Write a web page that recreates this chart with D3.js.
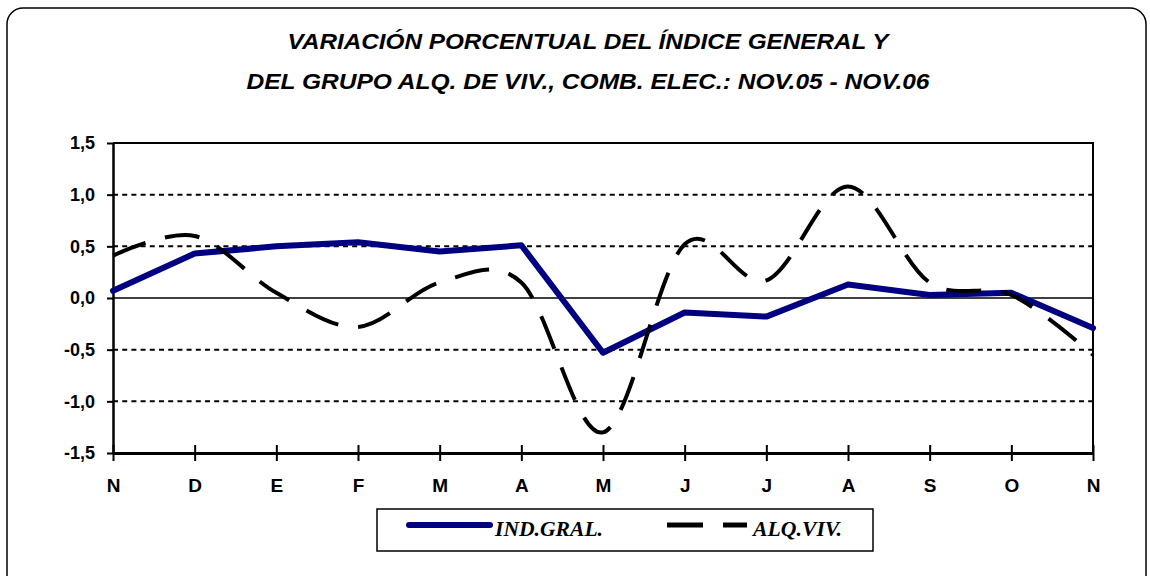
<!DOCTYPE html>
<html>
<head>
<meta charset="utf-8">
<script src="https://cdn.jsdelivr.net/npm/d3@7"></script>
<style>
  body { margin: 0; background: #fff; }
  svg text { fill: #000; }
</style>
</head>
<body>
<div id="chart-container"></div>
<script>
// month labels, nov.05 to nov.06
const months = ["N", "D", "E", "F", "M", "A", "M", "J", "J", "A", "S", "O", "N"];
// variacion porcentual
const indGral = [0.07, 0.43, 0.50, 0.54, 0.45, 0.51, -0.53, -0.14, -0.18, 0.13, 0.03, 0.05, -0.29];
const alqViv = [0.41, 0.60, 0.05, -0.28, 0.15, 0.15, -1.30, 0.52, 0.17, 1.08, 0.15, 0.03, -0.55];
const yTicks = [-1.5, -1.0, -0.5, 0.0, 0.5, 1.0, 1.5];
const titleLines = ["VARIACIÓN PORCENTUAL DEL ÍNDICE GENERAL Y",
                    "DEL GRUPO ALQ. DE VIV., COMB. ELEC.:  NOV.05 -  NOV.06"];
const seriesNames = ["IND.GRAL.", "ALQ.VIV."];

const svgWidth = 1150;
const svgHeight = 576;
const plot = { left: 113, right: 1093, top: 143, bottom: 453 };

const svg = d3.select("#chart-container")
    .append("svg")
    .attr("width", svgWidth)
    .attr("height", svgHeight);

// outer rounded frame (runs off the bottom edge)
svg.append("rect")
    .attr("x", 7).attr("y", 8)
    .attr("width", 1139).attr("height", 600)
    .attr("rx", 16)
    .attr("fill", "none")
    .attr("stroke", "#000")
    .attr("stroke-width", 1.5);

// title, two lines - squeezed to look like the narrow font of the original
const titleWidths = [601, 683];
titleLines.forEach((t, i) => {
    svg.append("text")
        .text(t)
        .attr("x", 588)
        .attr("y", 49 + i * 40)
        .attr("text-anchor", "middle")
        .attr("font-family", "Liberation Sans, Arial, sans-serif")
        .attr("font-style", "italic")
        .attr("font-weight", "bold")
        .attr("font-size", 22)
        .attr("textLength", titleWidths[i])
        .attr("lengthAdjust", "spacingAndGlyphs");
});

// scales
const x = d3.scalePoint()
    .domain(d3.range(months.length))
    .range([plot.left, plot.right]);

const y = d3.scaleLinear()
    .domain([-1.5, 1.5])
    .range([plot.bottom, plot.top]);

// dotted grid lines
svg.append("g")
    .selectAll("line")
    .data(yTicks.filter(d => d != 0 && Math.abs(d) < 1.5))
    .enter()
    .append("line")
    .attr("x1", plot.left).attr("x2", plot.right)
    .attr("y1", d => y(d)).attr("y2", d => y(d))
    .attr("stroke", "#000")
    .attr("stroke-width", 2)
    .attr("stroke-dasharray", "5,4.2");

// zero line
svg.append("line")
    .attr("x1", plot.left).attr("x2", plot.right)
    .attr("y1", y(0)).attr("y2", y(0))
    .attr("stroke", "#000")
    .attr("stroke-width", 1.5);

// top and right border of plot area
svg.append("path")
    .attr("d", `M${plot.left},${plot.top}H${plot.right}V${plot.bottom}`)
    .attr("fill", "none")
    .attr("stroke", "#000")
    .attr("stroke-width", 2);

// axes
const yAxis = svg.append("g")
    .attr("transform", `translate(${plot.left},0)`)
    .call(d3.axisLeft(y)
        .tickValues(yTicks)
        .tickSize(6)
        .tickSizeOuter(0)
        .tickFormat(d => d3.format(".1f")(d).replace(".", ",").replace("−", "-")));
yAxis.select(".domain").attr("stroke-width", 2.5);
yAxis.selectAll(".tick line").attr("stroke-width", 2);
yAxis.selectAll("text")
    .attr("x", -18)
    .attr("font-family", "Liberation Sans, Arial, sans-serif")
    .attr("font-weight", "bold")
    .attr("font-size", 18);

const xAxis = svg.append("g")
    .attr("transform", `translate(0,${plot.bottom})`)
    .call(d3.axisBottom(x)
        .tickSize(8)
        .tickSizeOuter(0)
        .tickFormat(i => months[i]));
xAxis.select(".domain").attr("stroke-width", 3);
xAxis.selectAll(".tick line").attr("y1", -8).attr("stroke-width", 2);
xAxis.selectAll("text")
    .attr("y", 26)
    .attr("font-family", "Liberation Sans, Arial, sans-serif")
    .attr("font-weight", "bold")
    .attr("font-size", 19);
svg.selectAll(".domain, .tick line").attr("stroke", "#000");

// lines
const straight = d3.line()
    .x((d, i) => x(i))
    .y(d => y(d));

const smooth = d3.line()
    .x((d, i) => x(i))
    .y(d => y(d))
    .curve(d3.curveCardinal.tension(0));

svg.append("path")
    .datum(indGral)
    .attr("d", straight)
    .attr("fill", "none")
    .attr("stroke", "#000080")
    .attr("stroke-width", 6)
    .attr("stroke-linejoin", "round")
    .attr("stroke-linecap", "round");

svg.append("path")
    .datum(alqViv)
    .attr("d", smooth)
    .attr("fill", "none")
    .attr("stroke", "#000")
    .attr("stroke-width", 4)
    .attr("stroke-dasharray", "35,20");

// legend
const legend = svg.append("g");
legend.append("rect")
    .attr("x", 377).attr("y", 509)
    .attr("width", 496).attr("height", 42)
    .attr("fill", "#fff")
    .attr("stroke", "#000")
    .attr("stroke-width", 1.5);
legend.append("line")
    .attr("x1", 409).attr("x2", 490)
    .attr("y1", 525).attr("y2", 525)
    .attr("stroke", "#000080")
    .attr("stroke-width", 6)
    .attr("stroke-linecap", "round");
legend.append("line")
    .attr("x1", 667).attr("x2", 747)
    .attr("y1", 525).attr("y2", 525)
    .attr("stroke", "#000")
    .attr("stroke-width", 5)
    .attr("stroke-dasharray", "36,20");
const legendText = [[495, 108], [753, 89]];
legendText.forEach(([lx, w], i) => {
    legend.append("text")
        .text(seriesNames[i])
        .attr("x", lx)
        .attr("y", 536)
        .attr("font-family", "Liberation Serif, Times New Roman, serif")
        .attr("font-style", "italic")
        .attr("font-weight", "bold")
        .attr("font-size", 21)
        .attr("textLength", w)
        .attr("lengthAdjust", "spacingAndGlyphs");
});
</script>
</body>
</html>
